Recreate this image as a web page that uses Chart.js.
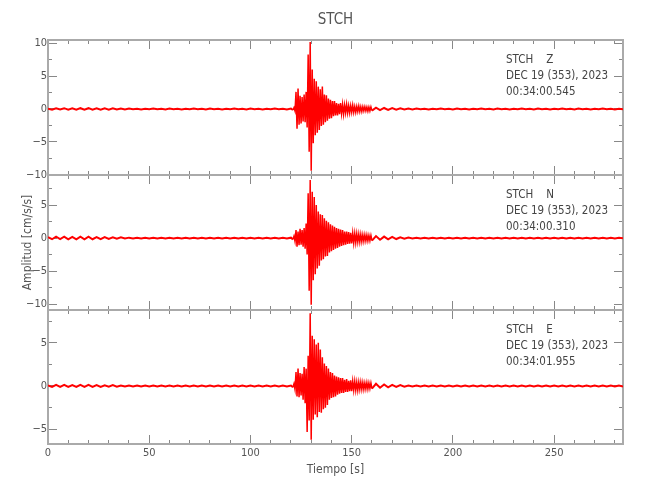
<!DOCTYPE html>
<html><head><meta charset="utf-8">
<script src="https://cdn.jsdelivr.net/npm/chart.js@4.4.1/dist/chart.umd.min.js"></script>
<style>
html,body{margin:0;padding:0;background:#fff;}
#wrap{position:relative;width:650px;height:500px;background:#fff;}
canvas{position:absolute;left:0;top:0;}
</style></head><body>
<div id="wrap">
<canvas id="c1" width="650" height="500"></canvas>
<canvas id="c2" width="650" height="500"></canvas>
<canvas id="c3" width="650" height="500"></canvas>
</div>
<script>
// ---------- data ----------
const stationName = 'STCH';
const componentLabels = ['STCH    Z', 'STCH    N', 'STCH    E'];
const dateLabel = 'DEC 19 (353), 2023';
const startTimes = ['00:34:00.545', '00:34:00.310', '00:34:01.955'];
const xAxisTitle = 'Tiempo [s]';
const yAxisTitle = 'Amplitud [cm/s/s]';

const timeSeconds = [
  0,2,4,6,8,10,12,14,16,18,
  20,22,24,26,28,30,32,34,36,38,
  40,42,44,46,48,50,52,54,56,58,
  60,62,64,66,68,70,72,74,76,78,
  80,82,84,86,88,90,92,94,96,98,
  100,102,104,106,108,110,112,114,116,118,
  120,121,121.5,122,122.5,123,123.5,124,124.5,125,
  125.5,126,126.5,127,127.5,128,128.5,129,129.5,130,
  130.5,131,131.5,132,132.5,133,133.5,134,134.5,135,
  135.5,136,136.5,137,137.5,138,138.5,139,139.5,140,
  140.5,141,141.5,142,142.5,143,143.5,144,144.5,145,
  145.5,146,146.5,147,147.5,148,148.5,149,149.5,150,
  150.5,151,151.5,152,152.5,153,153.5,154,154.5,155,
  155.5,156,156.5,157,157.5,158,158.5,159,159.5,160,
  162,164,166,168,170,172,174,176,178,180,
  182,184,186,188,190,192,194,196,198,200,
  202,204,206,208,210,212,214,216,218,220,
  222,224,226,228,230,232,234,236,238,240,
  242,244,246,248,250,252,254,256,258,260,
  262,264,266,268,270,272,274,276,278,280,
  282,284
];

const ampZ = [
  0.05,-0.1,0.12,-0.08,0.12,-0.12,0.1,-0.12,0.12,-0.1,
  0.12,-0.12,0.1,-0.12,0.1,-0.1,0.12,-0.08,0.08,-0.06,
  0.06,-0.05,0.05,-0.06,0.05,-0.05,0.06,-0.05,0.05,-0.06,
  0.06,-0.05,0.05,-0.06,0.05,-0.05,0.06,-0.05,0.05,-0.06,
  0.06,-0.05,0.05,-0.06,0.05,-0.05,0.06,-0.05,0.05,-0.06,
  0.06,-0.05,0.05,-0.06,0.05,-0.05,0.06,-0.05,0.05,-0.06,
  0.06,-0.15,0.2,-0.3,2.6,-3.0,3.1,-2.4,2.0,-2.2,
  1.8,-1.9,2.2,-2.0,2.6,-2.8,8.3,-6.5,10.2,-9.4,
  6.0,-5.2,4.6,-4.0,4.2,-3.6,3.4,-3.2,3.0,-2.6,
  3.4,-2.4,2.2,-2.0,2.1,-1.8,1.6,-1.5,1.4,-1.4,
  1.2,-1.1,1.2,-1.0,0.9,-1.0,0.8,-0.8,0.9,-0.7,
  0.7,-0.8,0.6,-0.6,0.7,-0.6,0.5,-0.6,0.5,-0.5,
  0.6,-0.5,0.4,-0.5,0.4,-0.4,0.45,-0.4,0.35,-0.4,
  0.35,-0.3,0.35,-0.3,0.3,-0.35,0.3,-0.3,0.3,-0.25,
  0.2,-0.18,0.15,-0.15,0.12,-0.12,0.1,-0.08,0.08,-0.06,
  0.06,-0.05,0.05,-0.06,0.05,-0.05,0.06,-0.05,0.05,-0.06,
  0.06,-0.05,0.05,-0.06,0.05,-0.05,0.06,-0.05,0.05,-0.06,
  0.06,-0.05,0.05,-0.06,0.05,-0.05,0.06,-0.05,0.05,-0.06,
  0.06,-0.05,0.05,-0.06,0.05,-0.05,0.06,-0.05,0.05,-0.06,
  0.06,-0.05,0.05,-0.06,0.05,-0.05,0.06,-0.05,0.05,-0.06,
  0.05,-0.05
];

const ampN = [
  0.12,-0.18,0.2,-0.15,0.2,-0.2,0.18,-0.2,0.2,-0.18,
  0.2,-0.18,0.15,-0.18,0.15,-0.12,0.12,-0.1,0.1,-0.08,
  0.06,-0.06,0.05,-0.06,0.06,-0.05,0.06,-0.06,0.05,-0.06,
  0.06,-0.06,0.05,-0.06,0.06,-0.05,0.06,-0.06,0.05,-0.06,
  0.06,-0.06,0.05,-0.06,0.06,-0.05,0.06,-0.06,0.05,-0.06,
  0.06,-0.06,0.05,-0.06,0.06,-0.05,0.06,-0.06,0.05,-0.06,
  0.06,-0.2,0.3,-0.5,1.2,-1.3,1.0,-1.1,1.4,-1.0,
  1.2,-1.3,1.5,-1.6,2.2,-2.5,6.8,-8.0,8.8,-10.1,
  7.0,-6.4,6.2,-5.5,5.0,-4.6,4.0,-4.2,3.6,-3.4,
  3.5,-3.2,3.0,-2.8,2.6,-2.7,2.4,-2.2,2.1,-2.0,
  1.9,-1.8,1.7,-1.6,1.5,-1.5,1.4,-1.3,1.3,-1.2,
  1.2,-1.1,1.0,-1.0,1.0,-0.9,0.9,-0.85,0.8,-0.8,
  0.75,-0.75,0.7,-0.7,0.65,-0.6,0.6,-0.6,0.55,-0.55,
  0.5,-0.5,0.5,-0.45,0.45,-0.45,0.4,-0.4,0.4,-0.4,
  0.3,-0.25,0.22,-0.2,0.18,-0.15,0.12,-0.1,0.08,-0.06,
  0.06,-0.06,0.05,-0.06,0.06,-0.05,0.06,-0.06,0.05,-0.06,
  0.06,-0.06,0.05,-0.06,0.06,-0.05,0.06,-0.06,0.05,-0.06,
  0.06,-0.06,0.05,-0.06,0.06,-0.05,0.06,-0.06,0.05,-0.06,
  0.06,-0.06,0.05,-0.06,0.06,-0.05,0.06,-0.06,0.05,-0.06,
  0.06,-0.06,0.05,-0.06,0.06,-0.05,0.06,-0.06,0.05,-0.06,
  0.05,-0.05
];

const ampE = [
  0.06,-0.1,0.12,-0.1,0.12,-0.12,0.1,-0.12,0.12,-0.1,
  0.12,-0.1,0.1,-0.1,0.08,-0.08,0.1,-0.08,0.06,-0.06,
  0.05,-0.05,0.05,-0.06,0.05,-0.05,0.06,-0.05,0.05,-0.05,
  0.05,-0.05,0.05,-0.06,0.05,-0.05,0.06,-0.05,0.05,-0.05,
  0.05,-0.05,0.05,-0.06,0.05,-0.05,0.06,-0.05,0.05,-0.05,
  0.05,-0.05,0.05,-0.06,0.05,-0.05,0.06,-0.05,0.05,-0.05,
  0.05,-0.15,0.25,-0.4,1.6,-1.2,2.0,-1.3,1.5,-1.1,
  1.4,-1.6,2.2,-2.0,2.0,-5.3,3.5,-4.0,8.4,-6.2,
  5.8,-3.9,5.4,-3.3,4.8,-3.6,5.0,-3.0,4.2,-3.1,
  3.3,-2.7,2.6,-2.5,2.3,-2.2,2.0,-1.6,1.6,-1.4,
  1.5,-1.3,1.2,-1.2,1.1,-1.0,1.0,-0.9,0.9,-0.8,
  0.9,-0.8,0.7,-0.7,0.8,-0.7,0.6,-0.6,0.65,-0.6,
  0.55,-0.5,0.55,-0.5,0.45,-0.5,0.45,-0.4,0.45,-0.4,
  0.4,-0.4,0.35,-0.35,0.4,-0.35,0.35,-0.3,0.35,-0.3,
  0.25,-0.2,0.18,-0.15,0.12,-0.1,0.1,-0.08,0.06,-0.06,
  0.05,-0.05,0.05,-0.06,0.05,-0.05,0.06,-0.05,0.05,-0.05,
  0.05,-0.05,0.05,-0.06,0.05,-0.05,0.06,-0.05,0.05,-0.05,
  0.05,-0.05,0.05,-0.06,0.05,-0.05,0.06,-0.05,0.05,-0.05,
  0.05,-0.05,0.05,-0.06,0.05,-0.05,0.06,-0.05,0.05,-0.05,
  0.05,-0.05,0.05,-0.06,0.05,-0.05,0.06,-0.05,0.05,-0.05,
  0.05,-0.05
];

const xRange = [0, 284];
const yMins = [-10.05, -10.9, -6.7];
const yMaxs = [10.5, 9.55, 8.77];
const xTickStep = 10, xLabelStep = 50;
const yTickStep = 2.5, yLabelStep = 5;
const burstWindow = [121, 160];

// ---------- styling ----------
const FONT = "'DejaVu Sans Condensed', 'Liberation Sans Narrow', 'DejaVu Sans', sans-serif";
const TEXT_COLOR = '#555';
const AXIS_COLOR = '#aaa';
const TICK_COLOR = '#888';
Chart.defaults.font.family = FONT;
Chart.defaults.color = TEXT_COLOR;

const panelTop = [0, 175, 310];
const panelBottomPad = [325, 190, 0];

function fmtY(v) {
  if (v % yLabelStep !== 0) return '';
  return v < 0 ? '\u2212' + Math.abs(v) : String(v);
}
function isMajorX(c) { return c.tick && c.tick.value % xLabelStep === 0; }
function isMajorY(c) { return c.tick && c.tick.value % yLabelStep === 0; }

const infoPlugin = {
  id: 'info',
  afterDraw(chart, args, opts) {
    const {ctx, chartArea} = chart;
    ctx.save();
    ctx.font = "11.5px " + FONT;
    ctx.fillStyle = '#444';
    ctx.textAlign = 'left';
    ctx.textBaseline = 'middle';
    const x = chartArea.right - 117;
    opts.lines.forEach((l, i) => ctx.fillText(l, x, chartArea.top + 20 + i * 16));
    ctx.restore();
  }
};

function makePanel(id, k, values) {
  const border = {display: true, color: AXIS_COLOR, width: 2};
  const last = k === 2;
  new Chart(document.getElementById(id), {
    type: 'line',
    data: {
      datasets: [{
        data: timeSeconds.map((t, i) => ({x: t, y: values[i]})),
        borderColor: '#ff0000',
        borderWidth: 1.5,
        segment: {
          borderWidth: c => (c.p0.parsed.x < burstWindow[0] || c.p0.parsed.x >= burstWindow[1]) ? 2 : 1.5
        },
        pointRadius: 0,
        fill: false,
        tension: 0,
        xAxisID: 'x',
        yAxisID: 'y'
      }]
    },
    options: {
      responsive: false,
      devicePixelRatio: 1,
      animation: false,
      events: [],
      layout: {padding: {left: 0, right: 27, top: panelTop[k], bottom: panelBottomPad[k]}},
      plugins: {
        legend: {display: false},
        tooltip: {enabled: false},
        title: {
          display: k === 0,
          text: stationName,
          fullSize: false,
          font: {size: 15, weight: 'normal', family: FONT, lineHeight: 1.2},
          color: TEXT_COLOR,
          padding: {top: 11, bottom: 11}
        },
        info: {lines: [componentLabels[k], dateLabel, startTimes[k]]}
      },
      scales: {
        x: {
          type: 'linear', position: 'bottom', min: xRange[0], max: xRange[1],
          afterFit: s => { s.height = last ? 56 : 0; },
          ticks: {
            stepSize: xTickStep, includeBounds: false, display: last, autoSkip: false,
            maxRotation: 0, padding: 12, font: {size: 11}, color: TEXT_COLOR,
            callback: v => (v % xLabelStep === 0 ? String(v) : '')
          },
          grid: {drawOnChartArea: false, tickLength: -9, tickColor: TICK_COLOR, tickWidth: 1,
                 tickBorderDash: c => (isMajorX(c) ? [] : [5, 50])},
          border: border,
          title: {display: last, text: xAxisTitle, font: {size: 12}, color: TEXT_COLOR,
                  padding: {top: 0, bottom: 23}}
        },
        xTop: {
          type: 'linear', position: 'top', min: xRange[0], max: xRange[1],
          afterFit: s => { s.height = 0; },
          ticks: {stepSize: xTickStep, includeBounds: false, display: false, autoSkip: false},
          grid: {drawOnChartArea: false, tickLength: -9, tickColor: TICK_COLOR, tickWidth: 1,
                 tickBorderDash: c => (isMajorX(c) ? [] : [0, 5, 5, 50])},
          border: border
        },
        y: {
          type: 'linear', position: 'left', min: yMins[k], max: yMaxs[k],
          afterFit: s => { s.width = 48; },
          ticks: {stepSize: yTickStep, includeBounds: false, autoSkip: false, padding: 10,
                  font: {size: 11}, color: TEXT_COLOR, callback: v => fmtY(v)},
          grid: {drawOnChartArea: false, tickLength: -9, tickColor: TICK_COLOR, tickWidth: 1,
                 tickBorderDash: c => (isMajorY(c) ? [] : [0, 5, 5, 50])},
          border: border,
          title: {display: k === 1, text: yAxisTitle, font: {size: 12}, color: TEXT_COLOR,
                  padding: {top: 21, bottom: 0}}
        },
        yRight: {
          type: 'linear', position: 'right', min: yMins[k], max: yMaxs[k],
          afterFit: s => { s.width = 0; },
          ticks: {stepSize: yTickStep, includeBounds: false, display: false, autoSkip: false},
          grid: {drawOnChartArea: false, tickLength: -9, tickColor: TICK_COLOR, tickWidth: 1,
                 tickBorderDash: c => (isMajorY(c) ? [] : [5, 50])},
          border: border
        }
      }
    },
    plugins: [infoPlugin]
  });
}

makePanel('c1', 0, ampZ);
makePanel('c2', 1, ampN);
makePanel('c3', 2, ampE);
</script>
</body></html>
